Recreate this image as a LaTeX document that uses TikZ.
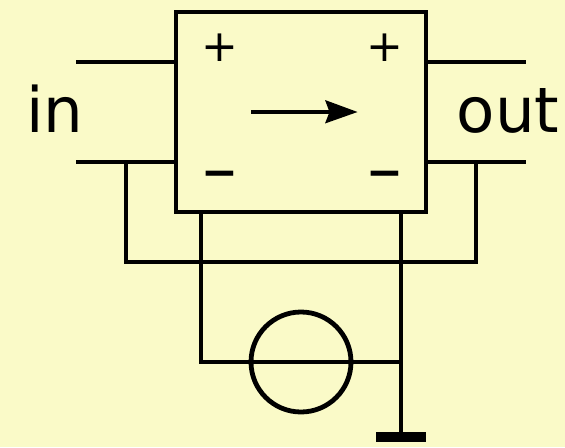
\documentclass[tikz,border=0pt]{standalone}
\usepackage{fontspec}
\setmainfont{DejaVu Sans}
\definecolor{bgc}{HTML}{FAFAC8}
\tikzset{x=0.75pt,y=-0.75pt,
 wire/.style={draw=black,line width=3.3pt,line cap=butt},
 lbl/.style={inner sep=0pt,font=\fontsize{47}{47}\selectfont},
 sgn/.style={inner sep=0pt,font=\fontsize{33}{33}\selectfont},
 neg/.style={inner sep=0pt,font=\fontsize{33}{33}\selectfont\bfseries}}
\begin{document}
\begin{tikzpicture}
\useasboundingbox (0,0) rectangle (565,447);
\fill[bgc] (0,0) rectangle (565,447);
\node[wire,draw,line width=3.6pt,minimum width=250pt*0.75,minimum height=200pt*0.75,inner sep=0pt,outer sep=0pt] (box) at (301,112) {};
\coordinate (inA) at (76,62); \coordinate (inB) at (76,162);
\coordinate (outA) at (526,62); \coordinate (outB) at (526,162);
\coordinate (boxIA) at (176,62); \coordinate (boxIB) at (176,162);
\coordinate (boxOA) at (426,62); \coordinate (boxOB) at (426,162);
\draw[wire] (inA) -- (boxIA);
\draw[wire] (inB) -- (boxIB);
\draw[wire] (boxOA) -- (outA);
\draw[wire] (boxOB) -- (outB);
\coordinate (tl) at (126,162); \coordinate (tr) at (476,162);
\draw[wire] (tl) -- (126,262) -- (476,262) -- (tr);
\coordinate (dl) at (201,212); \coordinate (dr) at (401,212);
\node[wire,draw,line width=3.6pt,circle,minimum size=100pt*0.75,inner sep=0pt,outer sep=0pt] (src) at (301,362) {};
\coordinate (jn) at (401,362);
\draw[wire,line join=miter] (dl) -- (201,362) -- (src.center) -- (jn);
\coordinate (gnd) at (401,437);
\draw[wire] (dr) -- (gnd);
\draw[black,line width=7.5pt] (376,437) -- (426,437);
\coordinate (aS) at (251,112); \coordinate (aE) at (330,112);
\draw[wire] (aS) -- (aE);
\fill[black] (357.5,112) -- (325,100) -- (329.5,112) -- (325,123.5) -- cycle;
\node[lbl,anchor=base] (in) at (55,132) {in};
\node[lbl,anchor=base] (out) at (508,132) {out};
\node[sgn] (p1) at (220.3,47.7) {+};
\node[sgn] (p2) at (385.3,47.7) {+};
\node[neg] (m1) at (220.3,179.5) {−};
\node[neg] (m2) at (385.3,179.5) {−};
\end{tikzpicture}
\end{document}
